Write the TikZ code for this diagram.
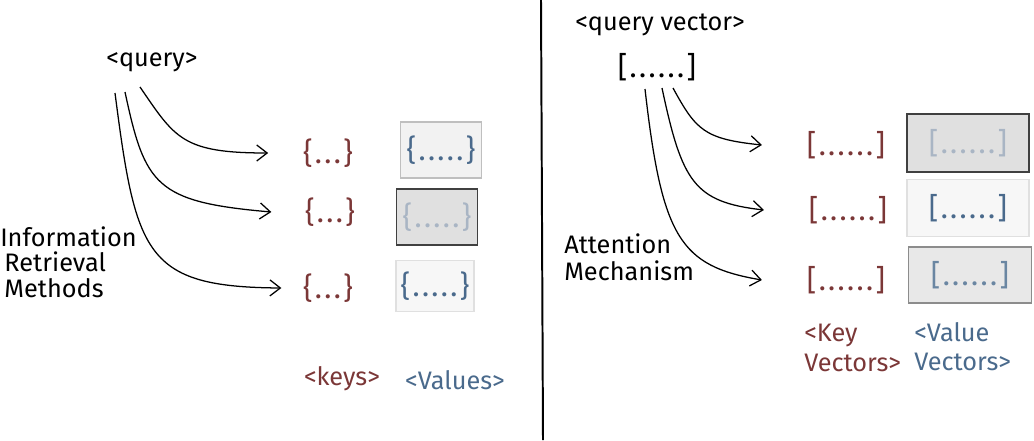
\documentclass[tikz,border=0pt]{standalone}
\usepackage{fontspec}
\setmainfont{Fira Sans}
\usetikzlibrary{positioning, arrows.meta}
\definecolor{keyred}{HTML}{7B3737}
\definecolor{valblue}{HTML}{4A6A8C}
\definecolor{fadeblue}{HTML}{A9B5C4}
\definecolor{midblue}{HTML}{6A86A2}

\begin{document}
\begin{tikzpicture}[x=0.025cm, y=-0.025cm, font=\fontsize{18}{21}\selectfont,
    key/.style={text=keyred, font=\fontsize{21}{22}\selectfont\addfontfeature{LetterSpace=8}},
    val/.style={text=valblue, font=\fontsize{21}{22}\selectfont\addfontfeature{LetterSpace=8}},
    vbox/.style={line width=0.9pt, minimum height=1.4cm},
    pale/.style={vbox, draw=black!25, fill=black!5},
    dark/.style={vbox, draw=black!75, fill=black!12},
    faint/.style={vbox, draw=black!12, fill=black!3},
    mid/.style={vbox, draw=black!45, fill=black!9},
    link/.style={->, >={Straight Barb[length=2.6mm, width=4mm]}, line width=0.9pt}]
    \useasboundingbox (0,0) rectangle (1034,441);

    % Left side
        \node (query) at (152,62) {<query>};
        \node[align=left, anchor=west, inner sep=0pt, font=\fontsize{18}{18}\selectfont] (irm) at (0,262) {Information\\\,Retrieval\\\,Methods};
        \node[key] (k1) at (328,153) {\{...\}};
        \node[key] (k2) at (330,212) {\{...\}};
        \node[key] (k3) at (328,288) {\{...\}};
        \node[pale, val, minimum width=2.03cm] (v1) at (441,150) {\{.....\}};
        \node[dark, val, text=fadeblue, minimum width=2.03cm] (v2) at (437,217) {\{.....\}};
        \node[faint, val, minimum width=1.93cm, minimum height=1.28cm] (v3) at (435,286) {\{.....\}};
        \node[text=keyred] (keys) at (342,379) {<keys>};
        \node[text=valblue] (vals) at (455,380) {<Values>};
        \coordinate (qa) at (140,87);
        \coordinate (qb) at (125,92);
        \coordinate (qc) at (115,93);

        \draw[link] (qa) .. controls (175,138) and (182,153) .. ([xshift=-0.75cm]k1.west);
        \draw[link] (qb) .. controls (145,185) and (155,202) .. ([xshift=-0.72cm]k2.west);
        \draw[link] (qc) .. controls (136,255) and (145,287) .. ([xshift=-0.42cm]k3.west);

    % Divider
        \draw[line width=1.4pt] (541,0) -- (543,440);

    % Right side
        \node (qvec) at (660,25) {<query vector>};
        \node[key, text=black] (qv) at (657,67) {[......]};
        \node[align=left, anchor=west, inner sep=0pt, font=\fontsize{18}{19.5}\selectfont] (att) at (564,257) {Attention\\Mechanism};
        \node[key] (kv1) at (846,145) {[......]};
        \node[key] (kv2) at (848,210) {[......]};
        \node[key] (kv3) at (846,280) {[......]};
        \node[dark, val, text=fadeblue, minimum width=3.05cm, minimum height=1.45cm] (vv1) at (968,143) {[......]};
        \node[faint, val, minimum width=3.05cm, minimum height=1.42cm] (vv2) at (968,208) {[......]};
        \node[mid, val, text=midblue, minimum width=3.07cm, minimum height=1.4cm] (vv3) at (970,275) {[......]};
        \node[text=keyred, align=left, anchor=north west, inner sep=0pt] (kvl) at (804,324) {<Key\\Vectors>};
        \node[text=valblue, align=left, anchor=north west, inner sep=0pt] (vvl) at (914,322) {<Value\\Vectors>};
        \coordinate (ra) at (673,88);
        \coordinate (rb) at (662,88);
        \coordinate (rc) at (645,89);

        \draw[link] (ra) .. controls (696,130) and (704,139) .. ([xshift=-1cm]kv1.west);
        \draw[link] (rb) .. controls (682,182) and (694,202) .. ([xshift=-1cm]kv2.west);
        \draw[link] (rc) .. controls (662,238) and (680,266) .. ([xshift=-1cm]kv3.west);
\end{tikzpicture}
\end{document}
